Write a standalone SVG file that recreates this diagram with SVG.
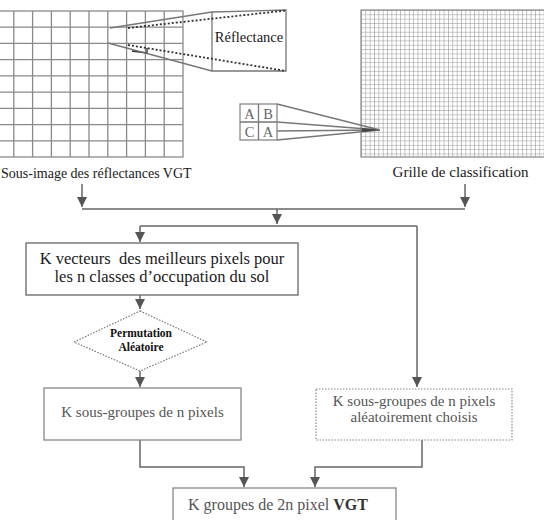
<svg xmlns="http://www.w3.org/2000/svg" width="544" height="520" viewBox="0 0 544 520">
<defs>
<style>
text{font-family:"Liberation Serif","Times New Roman",serif;}
.t15{font-size:15px;fill:#1a1a1a;}
.gt{font-size:15px;fill:#555;}
.grid{stroke:#8a8a8a;stroke-width:1.3;fill:none;}
.box{fill:#fff;stroke:#666;stroke-width:1.3;}
.gbox{fill:#fff;stroke:#888;stroke-width:1.3;}
.dbox{fill:#fff;stroke:#888;stroke-width:1.2;stroke-dasharray:1.5 1.5;}
.con{stroke:#666;stroke-width:1.5;fill:none;}
.arr{stroke:#666;stroke-width:1.5;fill:none;marker-end:url(#ah);}
.zl{stroke:#777;stroke-width:1.3;fill:none;}
.zd{stroke:#333;stroke-width:1.8;stroke-dasharray:2 2;fill:none;}
</style>
<marker id="ah" markerUnits="userSpaceOnUse" markerWidth="12" markerHeight="12" refX="10" refY="5" orient="auto">
<path d="M0,0 L10,5 L0,10 Z" fill="#555"/>
</marker>
<pattern id="fine" patternUnits="userSpaceOnUse" x="361" y="10" width="4.35" height="4.35">
<path d="M0,0 H4.35 M0,0 V4.35" stroke="#8a8a8a" stroke-width="1" fill="none"/>
</pattern>
</defs>

<g id="left-grid">
<rect x="-5" y="11" width="188" height="146" class="grid"/>
<path class="grid" d="M13.8,11V157 M32.6,11V157 M51.4,11V157 M70.2,11V157 M89,11V157 M107.8,11V157 M126.6,11V157 M145.4,11V157 M164.2,11V157 M-5,27.2H183 M-5,43.4H183 M-5,59.7H183 M-5,75.9H183 M-5,92.1H183 M-5,108.3H183 M-5,124.6H183 M-5,140.8H183"/>
<path d="M132,51 L147,53 M147,48 V54" stroke="#222" stroke-width="1.3" fill="none"/>
<text x="1" y="178" style="font-size:14px;fill:#1a1a1a">Sous-image des réflectances VGT</text>
</g>

<g id="zoom">
<path class="zl" d="M110,28 L212,12 M108,43 L212,71"/>
<path class="zl" d="M212,12 L286,10 L286,71 L212,71 Z" fill="#fff"/>
<path class="zd" d="M128,28 L286,10.5 M128,45 L286,71"/>
<text x="249" y="42" style="font-size:14.5px;fill:#1a1a1a" text-anchor="middle">Réflectance</text>
</g>

<g id="right-grid">
<rect x="361" y="10" width="190" height="147" fill="url(#fine)" stroke="#888" stroke-width="1.2"/>
<text x="460.5" y="177" class="t15" text-anchor="middle">Grille de classification</text>
</g>

<g id="abca">
<path class="zl" d="M277,104 L380,130 M277,122 L380,130 M277,131 L380,130 M277,140 L380,130"/>
<path d="M362,128 L380,130 L362,132 Z" fill="#444"/>
<rect x="240" y="104" width="37" height="36" class="gbox"/>
<path class="zl" d="M258.5,104V140 M240,122H277"/>
<text x="249.5" y="119" style="font-size:14.5px;fill:#666" text-anchor="middle">A</text>
<text x="268" y="119" style="font-size:14.5px;fill:#666" text-anchor="middle">B</text>
<text x="249.5" y="137" style="font-size:14.5px;fill:#666" text-anchor="middle">C</text>
<text x="268" y="137" style="font-size:14.5px;fill:#666" text-anchor="middle">A</text>
</g>

<g id="connectors">
<path class="arr" d="M82,184 V207"/>
<path class="arr" d="M465,184 V207"/>
<path class="con" d="M82,209 H465"/>
<path class="arr" d="M277,209 V224"/>
<path class="con" d="M140,226 H417"/>
<path class="arr" d="M140,226 V242"/>
<path class="arr" d="M417,226 V387"/>
<path class="arr" d="M140,295 V309"/>
<path class="arr" d="M140,371 V387"/>
<path class="arr" d="M140,440 V467 H244 V487"/>
<path class="arr" d="M422,440 V467 H315 V487"/>
</g>

<g id="box-vecteurs">
<rect x="26" y="243" width="272" height="52" class="box"/>
<text x="162" y="264" style="font-size:16.5px;fill:#1a1a1a" text-anchor="middle" xml:space="preserve">K vecteurs  des meilleurs pixels pour</text>
<text x="162" y="282" style="font-size:16.5px;fill:#1a1a1a" text-anchor="middle">les n classes d’occupation du sol</text>
</g>

<g id="diamond">
<path d="M140,311 L207,342 L140,371 L74,342 Z" fill="#fff" stroke="#777" stroke-width="1.2" stroke-dasharray="1.5 1.5"/>
<text x="141" y="337" style="font-size:11.5px;font-weight:bold;fill:#111" text-anchor="middle">Permutation</text>
<text x="141" y="351" style="font-size:11.5px;font-weight:bold;fill:#111" text-anchor="middle">Aléatoire</text>
</g>

<g id="box-sous-groupes">
<rect x="44" y="388" width="197" height="52" class="gbox"/>
<text x="142.5" y="417" class="gt" text-anchor="middle">K sous-groupes de n pixels</text>
</g>

<g id="box-aleatoire">
<rect x="316" y="389" width="196" height="51" class="dbox"/>
<text x="414" y="406" class="gt" text-anchor="middle">K sous-groupes de n pixels</text>
<text x="414" y="422" class="gt" text-anchor="middle">aléatoirement choisis</text>
</g>

<g id="box-final">
<rect x="173" y="488" width="223" height="40" class="gbox"/>
<text x="278" y="510" style="font-size:16px;fill:#555" text-anchor="middle">K groupes de 2n pixel <tspan font-weight="bold" fill="#333">VGT</tspan></text>
</g>
</svg>
